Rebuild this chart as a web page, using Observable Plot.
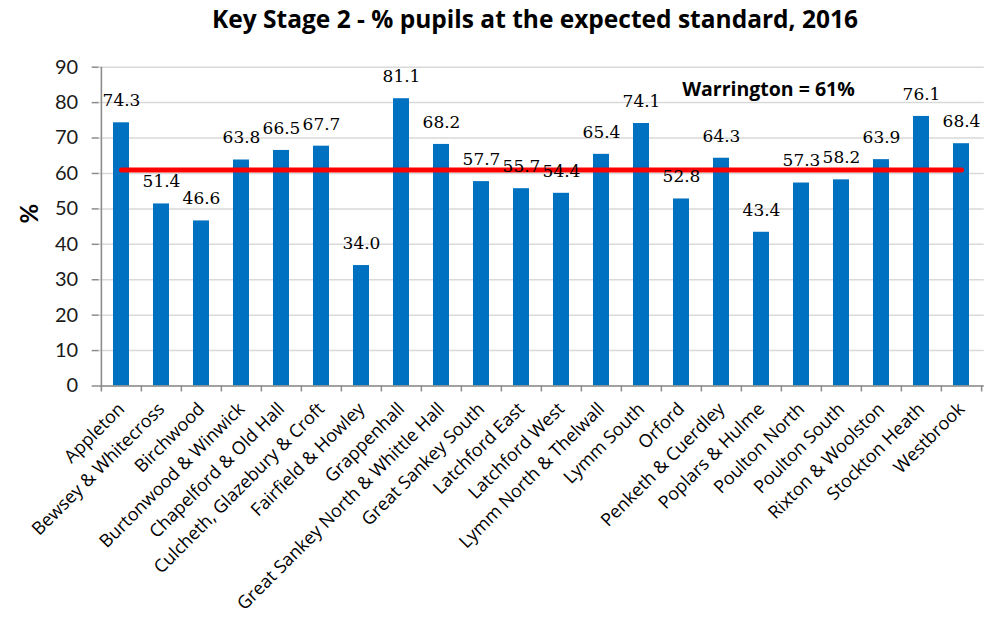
<!DOCTYPE html>
<html>
<head>
<meta charset="utf-8">
<script src="https://cdn.jsdelivr.net/npm/d3@7"></script>
<script src="https://cdn.jsdelivr.net/npm/@observablehq/plot@0.6"></script>
<style>
  html, body { margin: 0; padding: 0; background: #fff; }
  body { width: 996px; height: 625px; overflow: hidden; }
  #title { height: 40px; line-height: 38px; text-align: center; padding-left: 74px; box-sizing: border-box;
           font-family: "Open Sans", Lato, sans-serif; font-weight: bold; font-size: 24.5px; color: #000; white-space: nowrap; }
  #chart svg { display: block; }
</style>
</head>
<body>
<div id="title">Key Stage 2 - % pupils at the expected standard, 2016</div>
<div id="chart"></div>
<script>
const wards = ["Appleton","Bewsey & Whitecross","Birchwood","Burtonwood & Winwick","Chapelford & Old Hall","Culcheth, Glazebury & Croft","Fairfield & Howley","Grappenhall","Great Sankey North & Whittle Hall","Great Sankey South","Latchford East","Latchford West","Lymm North & Thelwall","Lymm South","Orford","Penketh & Cuerdley","Poplars & Hulme","Poulton North","Poulton South","Rixton & Woolston","Stockton Heath","Westbrook"];
const values = [74.3,51.4,46.6,63.8,66.5,67.7,34.0,81.1,68.2,57.7,55.7,54.4,65.4,74.1,52.8,64.3,43.4,57.3,58.2,63.9,76.1,68.4];
const yTicks = [0,10,20,30,40,50,60,70,80,90];
const benchmark = 61;
const benchmarkLabel = "Warrington = 61%";
const benchmarkLabelWard = "Poplars & Hulme";
const benchmarkLabelValue = 83.6;
const yLabel = "%";

const data = wards.map((w, i) => ({ward: w, value: values[i]}));

const W = 996, H = 585;
const mL = 98.7, mR = 12.3, mT = 26.7, mB = 239.5;
const step = (W - mL - mR) / wards.length;
const axisGrey = "#8c8c8c";

const chart = Plot.plot({
  width: W, height: H,
  marginLeft: mL, marginRight: mR, marginTop: mT, marginBottom: mB,
  style: {background: "#fff", color: "#000"},
  x: {domain: wards, paddingInner: 0.6, paddingOuter: 0.3, align: 0.5, label: null},
  y: {domain: [0, 90], label: null},
  marks: [
    Plot.gridY(yTicks, {stroke: "#d9d9d9", strokeOpacity: 1, strokeWidth: 1.5}),
    Plot.barY(data, {x: "ward", y: "value", fill: "#0070C0"}),
    Plot.ruleY([0], {stroke: axisGrey, strokeWidth: 1.6}),
    Plot.ruleX([wards[0]], {x: d => d, dx: -step / 2, y1: 90, y2: 0, insetBottom: -6, stroke: axisGrey, strokeWidth: 1.6}),
    Plot.ruleX(wards.slice(1), {x: d => d, dx: -step / 2, y1: 0, y2: 0, insetBottom: -6, stroke: axisGrey, strokeWidth: 1.5}),
    Plot.ruleX([wards[wards.length - 1]], {x: d => d, dx: step / 2, y1: 0, y2: 0, insetBottom: -6, stroke: axisGrey, strokeWidth: 1.5}),
    Plot.axisY(yTicks, {tickSize: 7, tickPadding: 14, stroke: axisGrey, strokeWidth: 1.5, fill: "#1a1a1a", fontSize: 20, fontFamily: "Lato, sans-serif", label: null}),
    Plot.axisX({tickSize: 0, tickPadding: 20, tickRotate: -45, fontSize: 18, fontFamily: "'Open Sans', sans-serif", fill: "#000", label: null}),
    Plot.text([yLabel], {frameAnchor: "left", dx: -69, dy: -3, rotate: -90, fontSize: 24, fontWeight: "bold", fontFamily: "Lato, sans-serif", fill: "#000"}),
    Plot.lineY(data, {x: "ward", y: () => benchmark, stroke: "#ff0000", strokeWidth: 5, strokeLinecap: "round"}),
    Plot.text(data, {x: "ward", y: "value", text: d => d.value.toFixed(1), dy: -22, fontSize: 17, fontFamily: "DejaVu Serif, serif", fill: "#000"}),
    Plot.text([benchmarkLabel], {x: () => benchmarkLabelWard, y: () => benchmarkLabelValue, dx: 7, text: d => d, fontSize: 19.5, fontWeight: "bold", fontFamily: "'Open Sans', sans-serif", fill: "#000"})
  ]
});
document.getElementById("chart").appendChild(chart);
</script>
</body>
</html>
